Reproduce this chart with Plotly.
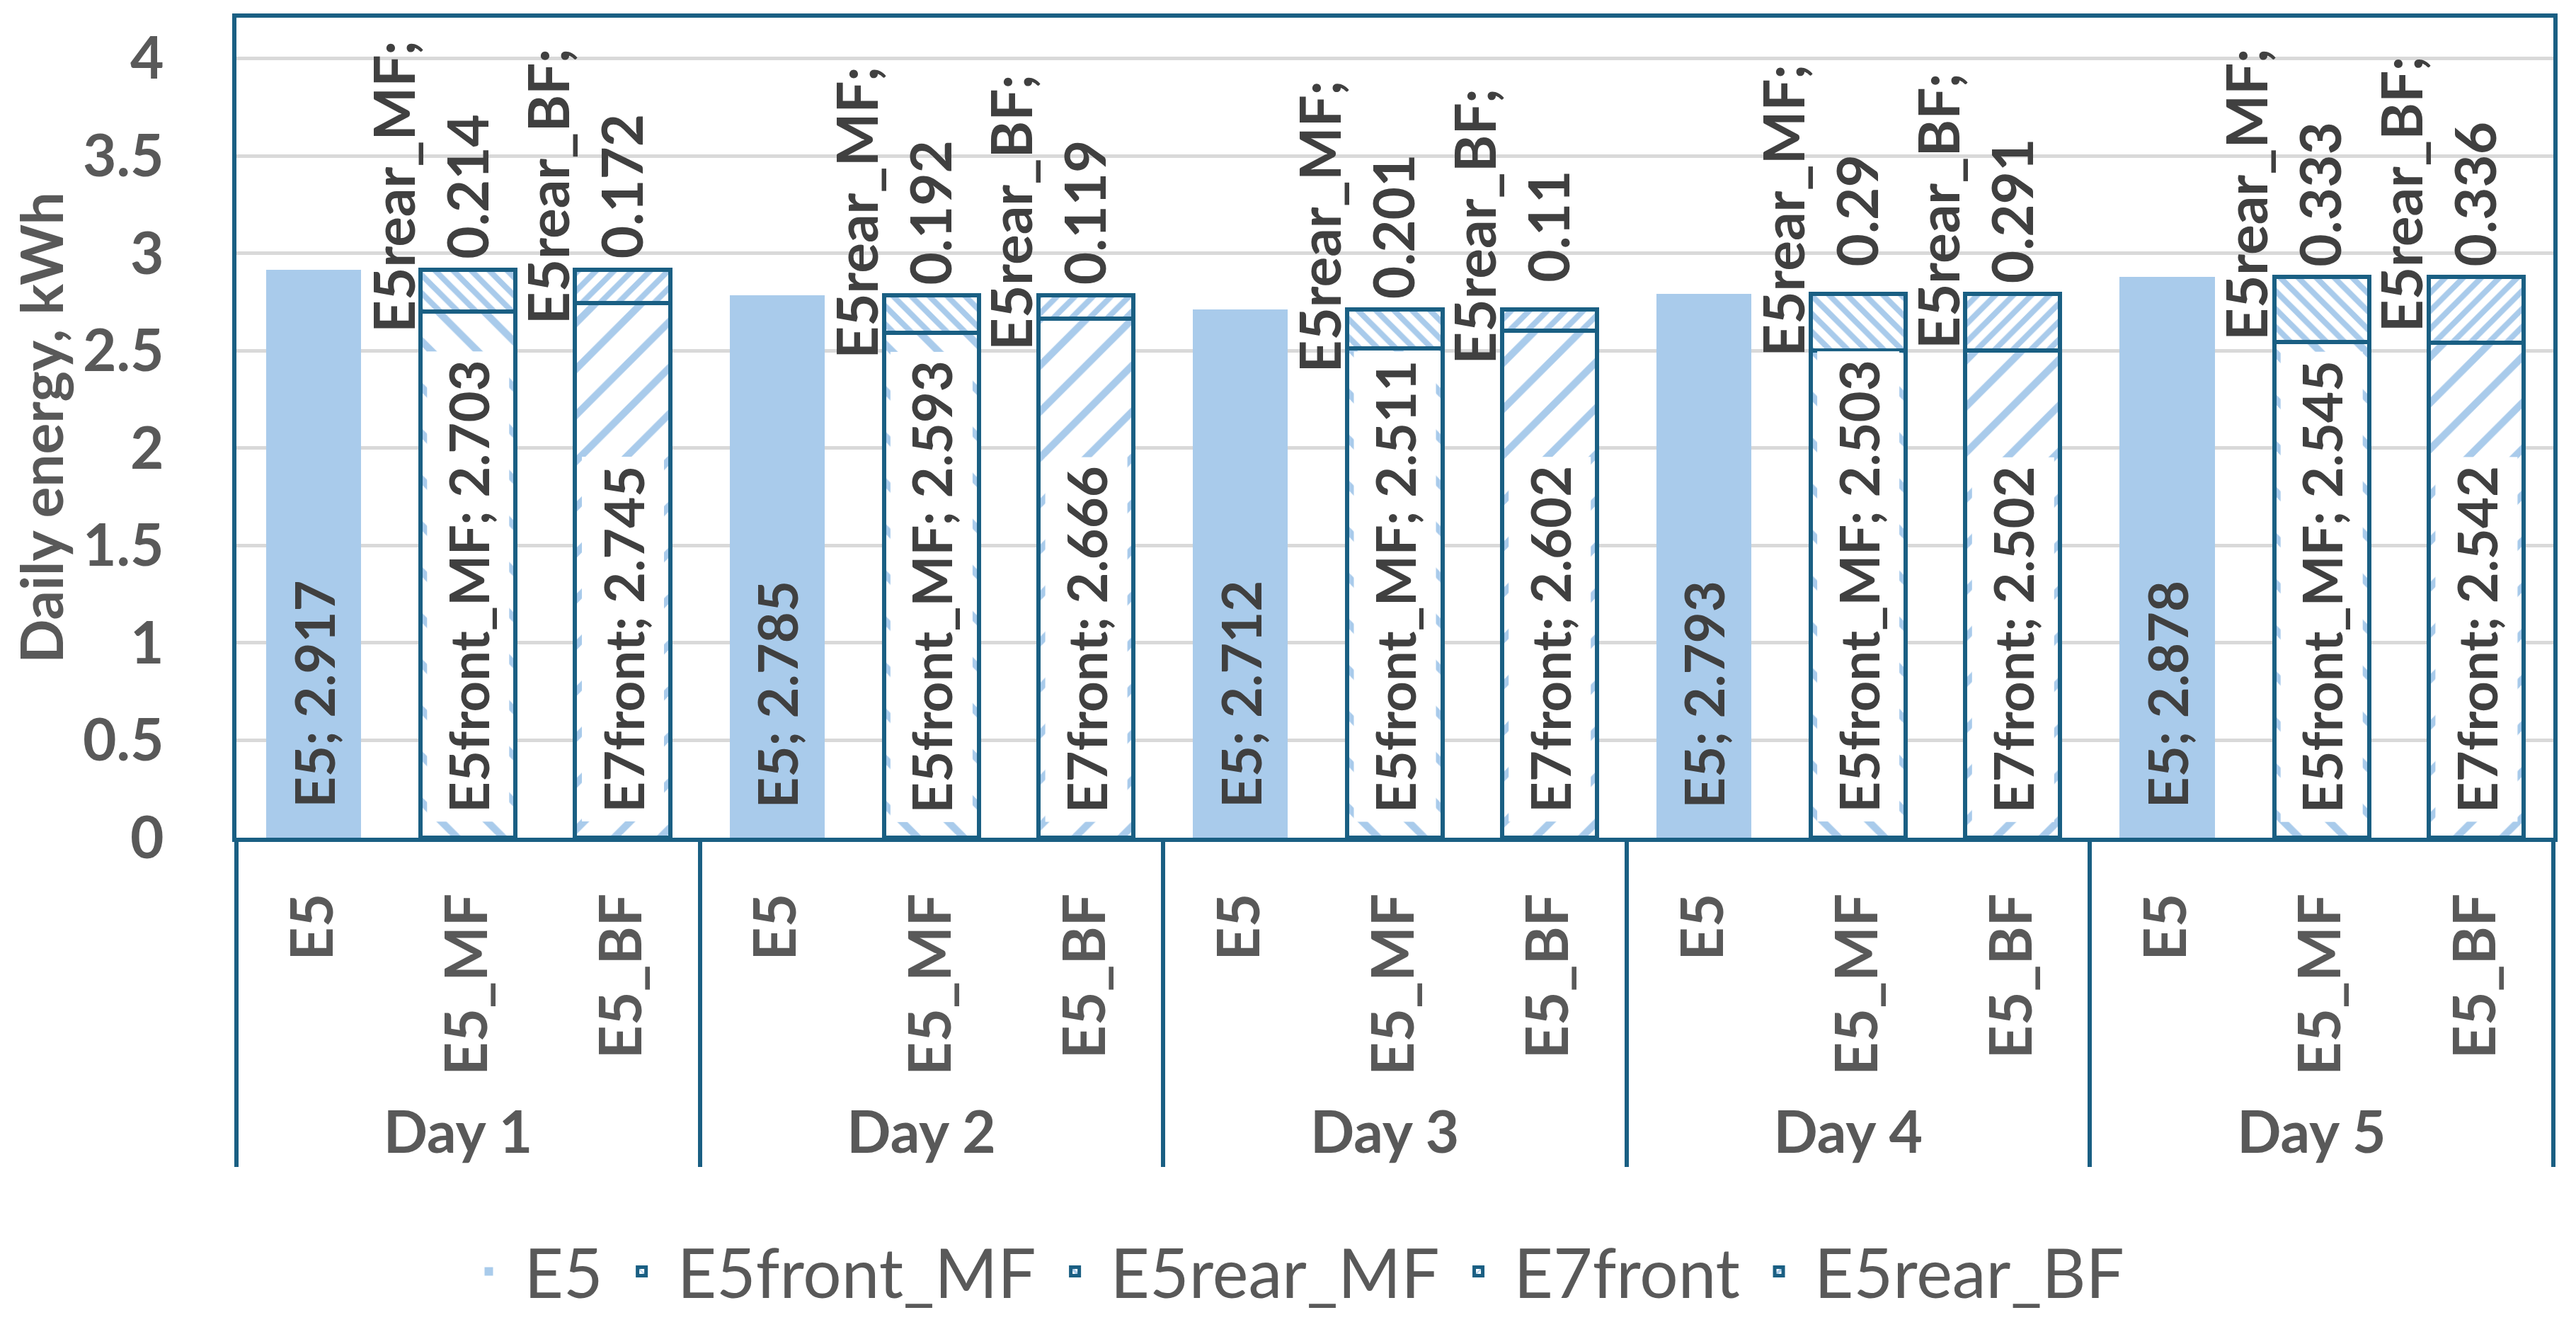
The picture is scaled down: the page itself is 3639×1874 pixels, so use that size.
import plotly.graph_objects as go

# ---------------- data ----------------
days = ["Day 1", "Day 2", "Day 3", "Day 4", "Day 5"]
configs = ["E5", "E5_MF", "E5_BF"]
e5 = [2.917, 2.785, 2.712, 2.793, 2.878]
e5front_mf = [2.703, 2.593, 2.511, 2.503, 2.545]
e5rear_mf = [0.214, 0.192, 0.201, 0.29, 0.333]
e7front = [2.745, 2.666, 2.602, 2.502, 2.542]
e5rear_bf = [0.172, 0.119, 0.11, 0.291, 0.336]
y_ticks = [0, 0.5, 1, 1.5, 2, 2.5, 3, 3.5, 4]

# ---------------- style ----------------
LIGHT = "#A9CBEB"
DARK = "#1A5F83"
TXT = "#404040"
AXT = "#595959"
FONT = "Lato"

outer = [d for d in days for c in configs]
inner = [c for d in days for c in configs]


def place(values, config):
    out = []
    for di, d in enumerate(days):
        for c in configs:
            out.append(values[di] if c == config else None)
    return out


def patterned(shape, size, solidity):
    return dict(color="white", line=dict(color=DARK, width=6),
                pattern=dict(shape=shape, size=size, solidity=solidity,
                             fgcolor=LIGHT, bgcolor="white", fillmode="replace"))


fig = go.Figure()
fig.add_trace(go.Bar(name="E5", x=[outer, inner], y=place(e5, "E5"),
                     marker=dict(color=LIGHT, line=dict(width=0))))
fig.add_trace(go.Bar(name="E5front_MF", x=[outer, inner], y=place(e5front_mf, "E5_MF"),
                     marker=patterned("\\", 46, 0.22)))
fig.add_trace(go.Bar(name="E5rear_MF", x=[outer, inner], y=place(e5rear_mf, "E5_MF"),
                     marker=patterned("\\", 18, 0.45)))
fig.add_trace(go.Bar(name="E7front", x=[outer, inner], y=place(e7front, "E5_BF"),
                     marker=patterned("/", 46, 0.22)))
fig.add_trace(go.Bar(name="E5rear_BF", x=[outer, inner], y=place(e5rear_bf, "E5_BF"),
                     marker=patterned("/", 18, 0.45)))

annotations = []
ncat = len(configs)
for di in range(len(days)):
    i_e5 = di * ncat + configs.index("E5")
    i_mf = di * ncat + configs.index("E5_MF")
    i_bf = di * ncat + configs.index("E5_BF")
    # base labels
    annotations.append(dict(x=i_e5, y=0, xref="x", yref="y", yanchor="bottom",
                            yshift=40, showarrow=False, textangle=-90,
                            text=f"E5; {e5[di]:g}",
                            font=dict(family=FONT, size=76, color=TXT, weight="bold")))
    for idx, name, val in [(i_mf, "E5front_MF", e5front_mf[di]),
                           (i_bf, "E7front", e7front[di])]:
        annotations.append(dict(x=idx, y=0, xref="x", yref="y", yanchor="bottom",
                                yshift=22, showarrow=False, textangle=-90,
                                text=f"{name}; {val:g}", bgcolor="white", borderpad=12,
                                font=dict(family=FONT, size=76, color=TXT, weight="bold")))
    # top labels
    for idx, name, base, val in [(i_mf, "E5rear_MF", e5front_mf[di], e5rear_mf[di]),
                                 (i_bf, "E5rear_BF", e7front[di], e5rear_bf[di])]:
        annotations.append(dict(x=idx, y=base + val, xref="x", yref="y", yanchor="middle",
                                xanchor="center", yshift=117, xshift=-55, showarrow=False,
                                textangle=-90, align="center",
                                text=f"{name};<br>{val:g}",
                                font=dict(family=FONT, size=80, color=TXT, weight="bold")))

fig.update_layout(
    width=3631, height=1866, autosize=False,
    paper_bgcolor="white", plot_bgcolor="white",
    margin=dict(l=326, r=32, t=17, b=691),
    barmode="stack", bargap=0.385,
    font=dict(family=FONT, color=AXT),
    showlegend=True,
    legend=dict(orientation="h", xref="container", x=0.5, xanchor="center",
                yref="container", y=0.042, yanchor="middle",
                font=dict(family=FONT, size=96, color=AXT), itemwidth=90,
                traceorder="normal"),
    annotations=annotations,
)
fig.update_xaxes(
    type="multicategory", showline=True, linecolor=DARK, linewidth=6, mirror=True,
    showgrid=False, ticks="", tickangle=-90, ticklabelstandoff=40,
    tickfont=dict(family=FONT, size=82, color=AXT, weight="bold"),
    showdividers=True, dividercolor=DARK, dividerwidth=6,
)
fig.update_yaxes(
    range=[0, 4.21], tickvals=y_ticks, showgrid=True, gridcolor="#D9D9D9", gridwidth=5,
    zeroline=False, showline=True, linecolor=DARK, linewidth=6, mirror=True,
    ticks="", ticklabelstandoff=80,
    tickfont=dict(family=FONT, size=82, color=AXT, weight="bold"),
    title=dict(text="Daily energy, kWh", standoff=25,
               font=dict(family=FONT, size=82, color=AXT, weight="bold")),
)

fig.write_html("out.html")
